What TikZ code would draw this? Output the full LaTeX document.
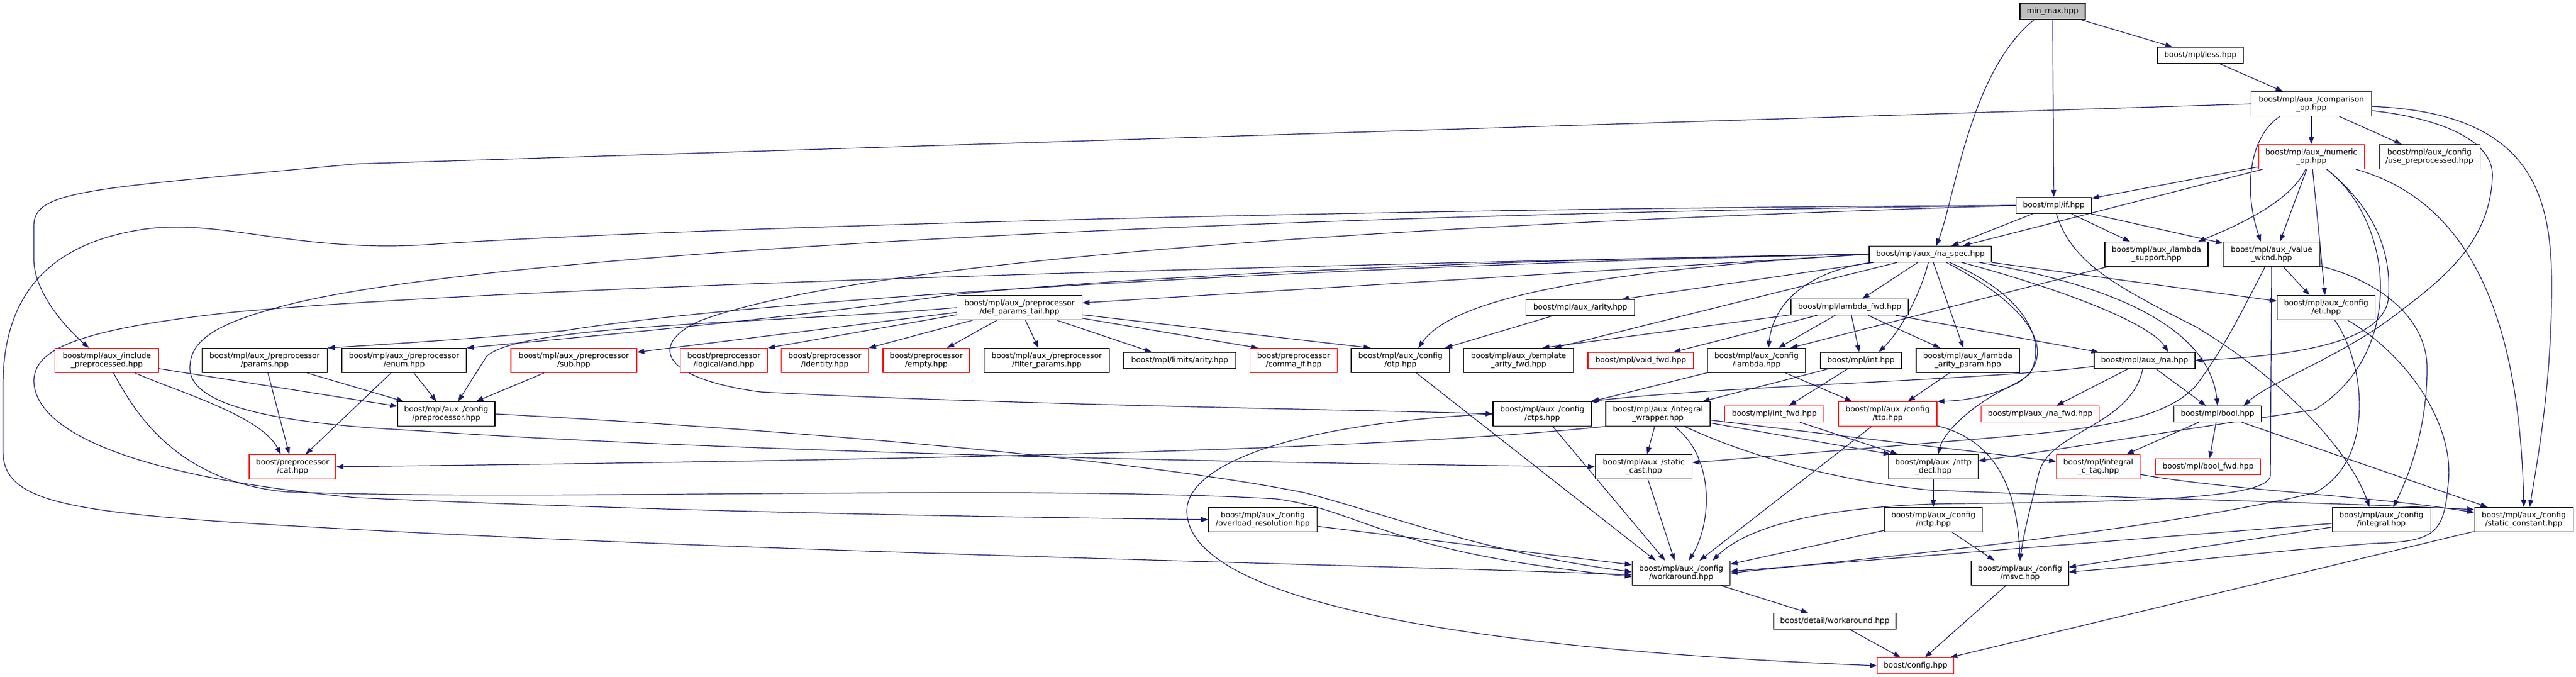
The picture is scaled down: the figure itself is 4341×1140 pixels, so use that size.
\documentclass[tikz,border=0pt]{standalone}
\usepackage{fontspec}
\setmainfont{DejaVu Sans}
\usetikzlibrary{arrows.meta}
\definecolor{edgecol}{HTML}{191970}
\definecolor{nodegray}{HTML}{BFBFBF}
\pgfdeclarelayer{bg}
\pgfdeclarelayer{edges}
\pgfsetlayers{bg,edges,main}
\tikzset{
  box/.style={draw=black, fill=white, line width=1.1pt, align=center, inner sep=0pt,
    minimum height=27pt, font=\fontsize{12.8}{13.8}\selectfont},
  two/.style={minimum height=41pt},
  redbox/.style={draw=red},
  dep/.style={draw=edgecol, line width=1.2pt, -{Triangle[length=12pt,width=8.5pt]}},
}
\begin{document}
\begin{tikzpicture}[x=1pt,y=-1pt]
\useasboundingbox (0,0) rectangle (4341,1140);
\begin{pgfonlayer}{bg}
\fill[white] (0,0) rectangle (4341,1140);
\end{pgfonlayer}
% ---------------- nodes
\node[box,minimum width=110pt,fill=nodegray] (minmax) at (3459,19) {min\_max.hpp};
\node[box,minimum width=144pt] (less) at (3708,93) {boost/mpl/less.hpp};
\node[box,two,minimum width=203pt] (compop) at (3895,175) {boost/mpl/aux\_/comparison\\\_op.hpp};
\node[box,two,redbox,minimum width=178pt] (numop) at (3895,264) {boost/mpl/aux\_/numeric\\\_op.hpp};
\node[box,two,minimum width=170pt] (usepre) at (4094,264) {boost/mpl/aux\_/config\\/use\_preprocessed.hpp};
\node[box,minimum width=127pt] (ifh) at (3461,346) {boost/mpl/if.hpp};
\node[box,minimum width=206pt] (naspec) at (3253,428) {boost/mpl/aux\_/na\_spec.hpp};
\node[box,two,minimum width=174pt] (lamsup) at (3634,428) {boost/mpl/aux\_/lambda\\\_support.hpp};
\node[box,two,minimum width=163pt] (valwknd) at (3828,428) {boost/mpl/aux\_/value\\\_wknd.hpp};
\node[box,two,minimum width=165pt] (eti) at (3920,518) {boost/mpl/aux\_/config\\/eti.hpp};
\node[box,minimum width=198pt] (lambdafwd) at (3117,517) {boost/mpl/lambda\_fwd.hpp};
\node[box,minimum width=183pt] (arity) at (2663,518) {boost/mpl/aux\_/arity.hpp};
\node[box,two,minimum width=211pt] (defpt) at (1718,518) {boost/mpl/aux\_/preprocessor\\/def\_params\_tail.hpp};
% row 8
\node[box,two,redbox,minimum width=175pt] (inclpre) at (180,607) {boost/mpl/aux\_/include\\\_preprocessed.hpp};
\node[box,two,minimum width=211pt] (params) at (446,607) {boost/mpl/aux\_/preprocessor\\/params.hpp};
\node[box,two,minimum width=210pt] (enum) at (681,607) {boost/mpl/aux\_/preprocessor\\/enum.hpp};
\node[box,two,redbox,minimum width=212pt] (sub) at (967,607) {boost/mpl/aux\_/preprocessor\\/sub.hpp};
\node[box,two,redbox,minimum width=147pt] (land) at (1220,607) {boost/preprocessor\\/logical/and.hpp};
\node[box,two,redbox,minimum width=147pt] (ident) at (1390,607) {boost/preprocessor\\/identity.hpp};
\node[box,two,redbox,minimum width=146pt] (empty) at (1561,607) {boost/preprocessor\\/empty.hpp};
\node[box,two,minimum width=211pt] (filterp) at (1764,607) {boost/mpl/aux\_/preprocessor\\/filter\_params.hpp};
\node[box,minimum width=189pt] (limits) at (1988,607) {boost/mpl/limits/arity.hpp};
\node[box,two,redbox,minimum width=147pt] (commaif) at (2180,607) {boost/preprocessor\\/comma\_if.hpp};
\node[box,two,minimum width=166pt] (dtp) at (2360,607) {boost/mpl/aux\_/config\\/dtp.hpp};
\node[box,two,minimum width=185pt] (tafwd) at (2559,607) {boost/mpl/aux\_/template\\\_arity\_fwd.hpp};
\node[box,redbox,minimum width=178pt] (voidfwd) at (2765,607) {boost/mpl/void\_fwd.hpp};
\node[box,two,minimum width=165pt] (cfglambda) at (2960,607) {boost/mpl/aux\_/config\\/lambda.hpp};
\node[box,minimum width=136pt] (inth) at (3136,607) {boost/mpl/int.hpp};
\node[box,two,minimum width=174pt] (lap) at (3316,607) {boost/mpl/aux\_/lambda\\\_arity\_param.hpp};
\node[box,minimum width=170pt] (nah) at (3614,607) {boost/mpl/aux\_/na.hpp};
% row 9
\node[box,two,minimum width=164pt] (cfgpre) at (752,697) {boost/mpl/aux\_/config\\/preprocessor.hpp};
\node[box,two,minimum width=166pt] (ctps) at (2599,697) {boost/mpl/aux\_/config\\/ctps.hpp};
\node[box,two,minimum width=176pt] (intwrap) at (2794,697) {boost/mpl/aux\_/integral\\\_wrapper.hpp};
\node[box,redbox,minimum width=167pt] (intfwd) at (2990,697) {boost/mpl/int\_fwd.hpp};
\node[box,two,redbox,minimum width=166pt] (ttp) at (3181,697) {boost/mpl/aux\_/config\\/ttp.hpp};
\node[box,redbox,minimum width=199pt] (nafwd) at (3438,697) {boost/mpl/aux\_/na\_fwd.hpp};
\node[box,minimum width=147pt] (boolh) at (3737,697) {boost/mpl/bool.hpp};
% row 10
\node[box,two,redbox,minimum width=146pt] (cat) at (493,786) {boost/preprocessor\\/cat.hpp};
\node[box,two,minimum width=163pt] (scast) at (2770,786) {boost/mpl/aux\_/static\\\_cast.hpp};
\node[box,two,minimum width=151pt] (nttpdecl) at (3258,786) {boost/mpl/aux\_/nttp\\\_decl.hpp};
\node[box,two,redbox,minimum width=141pt] (ictag) at (3536,786) {boost/mpl/integral\\\_c\_tag.hpp};
\node[box,redbox,minimum width=177pt] (boolfwd) at (3721,786) {boost/mpl/bool\_fwd.hpp};
% row 11
\node[box,two,minimum width=183pt] (overload) at (2128,875) {boost/mpl/aux\_/config\\/overload\_resolution.hpp};
\node[box,two,minimum width=165pt] (nttp) at (3258,875) {boost/mpl/aux\_/config\\/nttp.hpp};
\node[box,two,minimum width=166pt] (integral) at (4013,875) {boost/mpl/aux\_/config\\/integral.hpp};
\node[box,two,minimum width=166pt] (statconst) at (4253,875) {boost/mpl/aux\_/config\\/static\_constant.hpp};
% row 12-14
\node[box,two,minimum width=165pt] (workaround) at (2833,965) {boost/mpl/aux\_/config\\/workaround.hpp};
\node[box,two,minimum width=164pt] (msvc) at (3404,965) {boost/mpl/aux\_/config\\/msvc.hpp};
\node[box,minimum width=206pt] (detwork) at (3092,1046) {boost/detail/workaround.hpp};
\node[box,redbox,minimum width=129pt] (config) at (3228,1121) {boost/config.hpp};

% ---------------- edges
\begin{pgfonlayer}{edges}
% min_max
\draw[dep] (minmax) -- (less);
\draw[dep] (minmax) -- (ifh);
\draw[dep] ([xshift=-31pt]minmax.south) .. controls (3320,120) and (3295,330) .. ([xshift=10pt]naspec.north);
\draw[dep] (less) -- (compop);
% comparison_op
\draw[dep] (compop.west) -- (600,276) .. controls (150,318) and (57,320) .. (57,380) -- (57,440) .. controls (60,500) and (120,560) .. ([xshift=-30pt]inclpre.north);
\draw[dep] ([xshift=-53pt]compop.south) .. controls (3790,230) and (3780,320) .. ([xshift=-18pt]valwknd.north);
\draw[dep] (compop) -- (numop);
\draw[dep] (compop) -- (usepre);
\draw[dep] (compop) .. controls (4120,200) and (4205,240) .. (4200,300) .. controls (4195,400) and (4130,460) .. (4050,520) .. controls (3950,600) and (3830,640) .. ([xshift=44pt]boolh.north);
\draw[dep] (compop) .. controls (4260,190) and (4300,320) .. (4300,480) .. controls (4300,650) and (4275,780) .. ([xshift=10pt]statconst.north);
% numeric_op
\draw[dep] (numop) -- (ifh);
\draw[dep] (numop) -- (naspec);
\draw[dep] (numop) .. controls (3860,340) and (3770,380) .. ([xshift=70pt]lamsup.north);
\draw[dep] (numop) -- ([xshift=14pt]valwknd.north);
\draw[dep] (numop) -- (eti);
\draw[dep] (numop) .. controls (4040,380) and (4050,600) .. (3900,690) .. controls (3700,720) and (3450,760) .. ([yshift=10pt]nttpdecl.east);
\draw[dep] (numop) .. controls (4000,350) and (4030,420) .. (4025,500) .. controls (4020,580) and (3850,600) .. (nah.east);
\draw[dep] (numop) .. controls (4130,330) and (4245,480) .. (statconst.north);
% if
\draw[dep] (ifh) -- (naspec);
\draw[dep] (ifh) -- (lamsup);
\draw[dep] (ifh) -- (valwknd);
\draw[dep] (ifh) .. controls (3490,440) and (3560,480) .. (3700,550) .. controls (3850,640) and (3960,760) .. ([xshift=-20pt]integral.north);
\draw[dep] (ifh.west) .. controls (2300,380) and (1450,440) .. (1180,540) .. controls (1100,575) and (1100,635) .. (1281,660) .. controls (1700,682) and (2300,690) .. (ctps.west);
\draw[dep] (ifh.west) .. controls (2200,360) and (800,420) .. (460,520) .. controls (350,550) and (320,580) .. (320,620) .. controls (320,690) and (500,715) .. (700,725) .. controls (1200,760) and (2100,780) .. (scast.west);
\draw[dep] (ifh.west) .. controls (2300,350) and (1100,385) .. (720,412) .. controls (500,425) and (380,370) .. (250,385) .. controls (60,410) and (5,520) .. (5,650) -- (5,760) .. controls (5,840) and (100,860) .. (400,880) .. controls (1200,930) and (2300,950) .. ([yshift=-3pt]workaround.west);
% value_wknd
\draw[dep] (valwknd) .. controls (3770,540) and (3745,590) .. (3700,650) .. controls (3640,715) and (3500,725) .. (3300,742) -- ([yshift=7pt]scast.east);
\draw[dep] (valwknd.south) -- (3826,800) .. controls (3826,840) and (3600,845) .. (3300,848) .. controls (3100,850) and (2950,880) .. ([xshift=-30pt]workaround.north east);
\draw[dep] (valwknd) -- ([xshift=-28pt]eti.north);
\draw[dep] (valwknd) .. controls (4000,470) and (4090,530) .. (4090,620) .. controls (4090,720) and (4060,800) .. ([xshift=20pt]integral.north);
% lambda_support
\draw[dep] (lamsup) -- ([xshift=57pt]cfglambda.north);
% na_spec
\draw[dep] (naspec) -- (lambdafwd);
\draw[dep] (naspec) -- ([xshift=70pt]arity.north);
\draw[dep] (naspec.west) -- ([yshift=8pt]defpt.east);
\draw[dep] (naspec.west) .. controls (2700,455) and (2450,500) .. ([xshift=30pt]dtp.north);
\draw[dep] (naspec) -- ([xshift=60pt]tafwd.north);
\draw[dep] (naspec.west) .. controls (2300,445) and (1300,500) .. (950,557) .. controls (800,570) and (650,580) .. (params.north east);
\draw[dep] (naspec.west) .. controls (2300,440) and (1750,480) .. (1600,497) .. controls (1300,540) and (950,570) .. (enum.north east);
\draw[dep] (naspec.west) .. controls (2200,445) and (900,480) .. (400,525) .. controls (120,555) and (60,590) .. (57,640) .. controls (57,720) and (200,800) .. (600,838) .. controls (1200,865) and (1800,872) .. (overload.west);
\draw[dep] (naspec) .. controls (3235,500) and (3200,560) .. ([xshift=30pt]inth.north);
\draw[dep] (naspec) -- (lap);
\draw[dep] (naspec) .. controls (3060,455) and (2990,500) .. ([xshift=20pt]cfglambda.north);
\draw[dep] (naspec) .. controls (3450,480) and (3620,540) .. ([xshift=40pt]nah.north);
\draw[dep] (naspec) .. controls (3500,470) and (3720,530) .. (boolh.north);
\draw[dep] (naspec) -- ([yshift=11pt]eti.west);
\draw[dep] (naspec) .. controls (3420,500) and (3450,580) .. (3420,630) .. controls (3370,670) and (3300,675) .. (ttp.north east);
\draw[dep] (naspec) .. controls (3430,520) and (3470,600) .. (3400,645) .. controls (3320,680) and (3275,730) .. ([xshift=8pt]nttpdecl.north);
% lambda_fwd
\draw[dep] (lambdafwd) -- ([xshift=40pt]tafwd.north);
\draw[dep] (lambdafwd) -- (voidfwd);
\draw[dep] (lambdafwd) -- (cfglambda);
\draw[dep] (lambdafwd) -- (inth);
\draw[dep] (lambdafwd) -- (lap);
\draw[dep] (lambdafwd) -- (nah);
% arity
\draw[dep] (arity) -- ([xshift=75pt]dtp.north);
% def_params_tail
\draw[dep] ([yshift=-8pt]defpt.west) -- ([yshift=14pt]sub.east);
\draw[dep] ([yshift=-12pt]defpt.west) -- (land.north east);
\draw[dep] (defpt) -- (ident.north east);
\draw[dep] (defpt) -- ([xshift=35pt]empty.north);
\draw[dep] (defpt) -- ([xshift=-14pt]filterp.north);
\draw[dep] (defpt) -- ([xshift=-47pt]limits.north);
\draw[dep] (defpt) -- ([xshift=-60pt]commaif.north);
\draw[dep] (defpt) -- ([xshift=-50pt]dtp.north);
\draw[dep] (defpt.west) .. controls (1300,545) and (880,545) .. (820,600) -- ([xshift=20pt]cfgpre.north);
% include_preprocessed
\draw[dep] (inclpre) -- (cfgpre);
\draw[dep] (inclpre) .. controls (300,660) and (440,700) .. ([xshift=-20pt]cat.north);
\draw[dep] (inclpre) .. controls (230,700) and (300,810) .. (480,828) .. controls (900,845) and (1700,815) .. (2150,840) .. controls (2300,860) and (2330,930) .. ([yshift=-6pt]workaround.west);
% preprocessor helpers
\draw[dep] (params) -- (cfgpre);
\draw[dep] (params) -- (cat);
\draw[dep] (enum) -- (cfgpre);
\draw[dep] (enum) -- (cat);
\draw[dep] (sub) -- (cfgpre);
\draw[dep] (cfgpre.east) .. controls (1300,722) and (1900,770) .. (2200,830) .. controls (2350,870) and (2500,930) .. ([yshift=2pt]workaround.west);
% configs row 8-9
\draw[dep] (dtp) -- ([xshift=-43pt]workaround.north);
\draw[dep] (ctps) -- ([xshift=-27pt]workaround.north);
\draw[dep] (ctps.west) .. controls (2150,715) and (2000,790) .. (2000,860) .. controls (2000,1000) and (2400,1090) .. (config.west);
\draw[dep] (scast) -- ([xshift=-11pt]workaround.north);
\draw[dep] (intwrap) -- (scast);
\draw[dep] (intwrap) .. controls (2890,770) and (2885,880) .. ([xshift=13pt]workaround.north);
\draw[dep] (intwrap.south west) .. controls (2300,760) and (1500,775) .. (cat.east);
\draw[dep] (intwrap) -- ([xshift=-72pt]nttpdecl.north);
\draw[dep] (intwrap) -- ([yshift=9pt]ictag.west);
\draw[dep] (intwrap) .. controls (2950,770) and (3100,810) .. (3250,825) .. controls (3600,840) and (3900,845) .. ([yshift=17pt]statconst.west);
\draw[dep] (intfwd) -- ([xshift=-60pt]nttpdecl.north);
\draw[dep] (inth) -- ([xshift=75pt]intwrap.north);
\draw[dep] (inth) -- ([xshift=25pt]intfwd.north);
\draw[dep] (cfglambda) -- (ctps.north east);
\draw[dep] (cfglambda) -- ([xshift=-60pt]ttp.north);
\draw[dep] (lap) -- ([xshift=34pt]ttp.north);
\draw[dep] (nah) -- (nafwd);
\draw[dep] (nah) -- ([xshift=-20pt]boolh.north);
\draw[dep] ([yshift=-10pt]nah.west) .. controls (3350,640) and (2900,650) .. ([xshift=-3pt]ctps.north east);
\draw[dep] (nah) .. controls (3590,720) and (3450,725) .. (3435,800) .. controls (3420,860) and (3410,900) .. (msvc.north);
\draw[dep] (ttp) .. controls (3360,740) and (3400,820) .. (msvc.north);
\draw[dep] (ttp) -- ([xshift=31pt]workaround.north);
% bool
\draw[dep] (boolh) -- (boolfwd);
\draw[dep] (boolh) -- (ictag);
\draw[dep] (boolh) -- (statconst);
\draw[dep] (ictag) .. controls (3750,825) and (4000,835) .. ([yshift=12pt]statconst.west);
% nttp etc.
\draw[dep] (nttpdecl) -- (nttp);
\draw[dep] (overload) -- ([yshift=14pt]workaround.west);
\draw[dep] (nttp) -- ([yshift=15pt]workaround.east);
\draw[dep] (nttp) -- ([xshift=-43pt]msvc.north);
\draw[dep] (integral) -- ([yshift=3pt]workaround.east);
\draw[dep] (integral) -- ([yshift=10pt]msvc.east);
% eti
\draw[dep] (eti) .. controls (4060,600) and (4140,720) .. (4125,820) .. controls (4118,900) and (4100,912) .. (4000,915) .. controls (3800,930) and (3600,955) .. ([yshift=2pt]msvc.east);
\draw[dep] (eti) .. controls (3990,620) and (4000,780) .. (3900,830) .. controls (3600,900) and (3100,945) .. (workaround.east);
% bottom
\draw[dep] (statconst) -- (config);
\draw[dep] (msvc) -- (config);
\draw[dep] (workaround) -- (detwork);
\draw[dep] (detwork) -- (config);
\end{pgfonlayer}
\end{tikzpicture}
\end{document}
